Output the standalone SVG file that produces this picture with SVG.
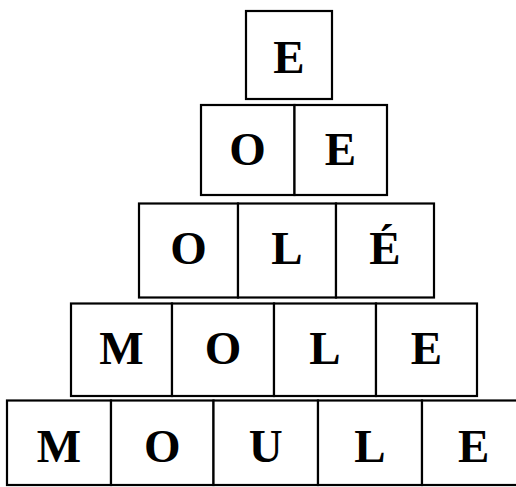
<svg xmlns="http://www.w3.org/2000/svg" width="516" height="487" viewBox="0 0 516 487">
<style>
.c{fill:#fff;stroke:#000;stroke-width:2.2}
text{font-family:'Liberation Serif', 'Times New Roman', Times, serif;font-weight:700;font-size:47px;fill:#000;text-anchor:middle}
</style>
<rect width="516" height="487" fill="#fff"/>
<g id="row1">
<g id="r1c1"><rect class="c" x="246" y="11" width="86" height="88"/><text x="289" y="73">E</text></g>
</g>
<g id="row2">
<g id="r2c1"><rect class="c" x="201" y="105" width="93.5" height="90"/><text x="247.5" y="165">O</text></g>
<g id="r2c2"><rect class="c" x="294.5" y="105" width="92.5" height="90"/><text x="340.5" y="165">E</text></g>
</g>
<g id="row3">
<g id="r3c1"><rect class="c" x="139" y="203.5" width="99" height="94"/><text x="188.5" y="264">O</text></g>
<g id="r3c2"><rect class="c" x="238" y="203.5" width="98" height="94"/><text x="287" y="264">L</text></g>
<g id="r3c3"><rect class="c" x="336" y="203.5" width="98" height="94"/><text x="385" y="264">É</text></g>
</g>
<g id="row4">
<g id="r4c1"><rect class="c" x="71" y="303.5" width="101" height="92.5"/><text x="121.5" y="364">M</text></g>
<g id="r4c2"><rect class="c" x="172" y="303.5" width="102" height="92.5"/><text x="223" y="364">O</text></g>
<g id="r4c3"><rect class="c" x="274" y="303.5" width="102" height="92.5"/><text x="325" y="364">L</text></g>
<g id="r4c4"><rect class="c" x="376" y="303.5" width="101" height="92.5"/><text x="426.5" y="364">E</text></g>
</g>
<g id="row5">
<g id="r5c1"><rect class="c" x="7" y="400.5" width="104" height="84.5"/><text x="59" y="462">M</text></g>
<g id="r5c2"><rect class="c" x="111" y="400.5" width="102.5" height="84.5"/><text x="162.3" y="462">O</text></g>
<g id="r5c3"><rect class="c" x="213.5" y="400.5" width="104.5" height="84.5"/><text x="265.8" y="462">U</text></g>
<g id="r5c4"><rect class="c" x="318" y="400.5" width="104" height="84.5"/><text x="370" y="462">L</text></g>
<g id="r5c5"><rect class="c" x="422" y="400.5" width="103.5" height="84.5"/><text x="473.8" y="462">E</text></g>
</g>
<g id="connectors"/>
</svg>
